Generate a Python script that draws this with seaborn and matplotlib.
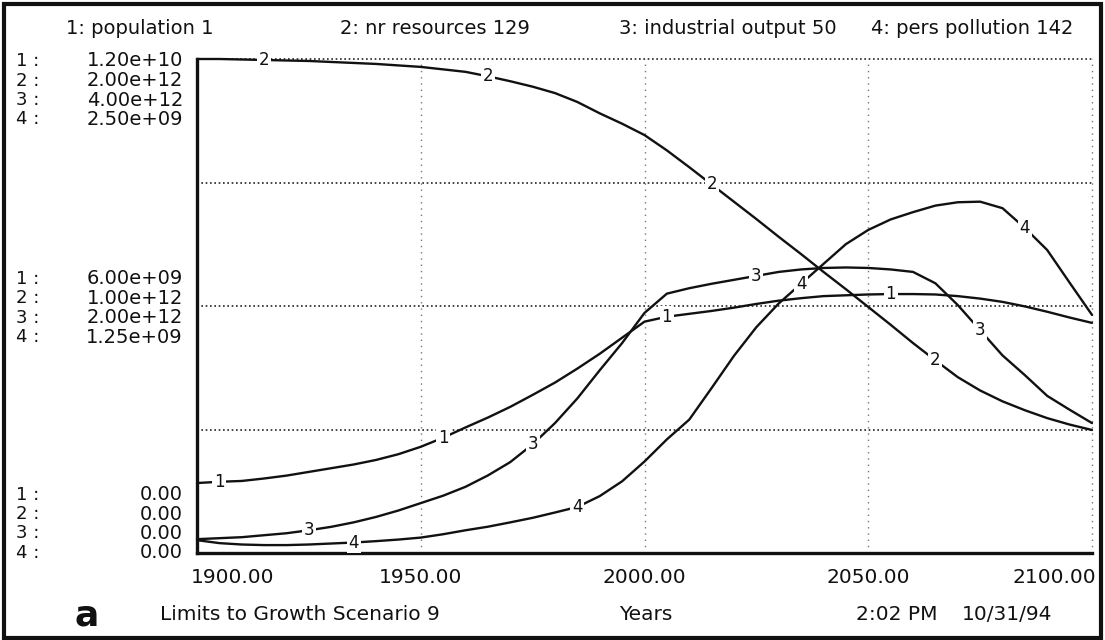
import numpy as np
import pandas as pd
import matplotlib
matplotlib.use("Agg")
import matplotlib.pyplot as plt
import matplotlib.transforms as mtransforms
import seaborn as sns
from matplotlib.patches import Rectangle

# ---------------- data ----------------
years = list(range(1900, 2101, 5))

# population, persons in billions
population = [1.70, 1.73, 1.75, 1.81, 1.88, 1.97, 2.06, 2.15, 2.26, 2.40, 2.58,
              2.80, 3.05, 3.29, 3.55, 3.84, 4.14, 4.48, 4.84, 5.23, 5.62,
              5.74, 5.81, 5.88, 5.96, 6.05, 6.13, 6.19, 6.24, 6.26, 6.28,
              6.29, 6.29, 6.28, 6.24, 6.18, 6.10, 5.99, 5.86, 5.72, 5.59]
# nonrenewable resources, 1e12
nr_resources = [2.000, 2.000, 1.998, 1.996, 1.994, 1.992, 1.988, 1.984, 1.980, 1.974, 1.968,
                1.958, 1.948, 1.930, 1.910, 1.888, 1.862, 1.826, 1.780, 1.738, 1.692,
                1.630, 1.562, 1.492, 1.422, 1.352, 1.280, 1.210, 1.138, 1.068, 0.996,
                0.924, 0.850, 0.780, 0.712, 0.658, 0.614, 0.578, 0.546, 0.520, 0.498]
# industrial output, 1e12
industrial_output = [0.112, 0.120, 0.128, 0.144, 0.160, 0.184, 0.212, 0.248, 0.292, 0.344, 0.404,
                     0.464, 0.536, 0.628, 0.736, 0.880, 1.052, 1.252, 1.480, 1.700, 1.944,
                     2.100, 2.144, 2.180, 2.212, 2.244, 2.276, 2.296, 2.308, 2.312, 2.308,
                     2.296, 2.276, 2.184, 2.008, 1.804, 1.600, 1.440, 1.272, 1.160, 1.052]
# persistent pollution, 1e9
pers_pollution = [0.065, 0.050, 0.043, 0.040, 0.040, 0.043, 0.048, 0.053, 0.060, 0.068, 0.078,
                  0.095, 0.115, 0.133, 0.155, 0.178, 0.205, 0.233, 0.288, 0.363, 0.463,
                  0.575, 0.675, 0.835, 0.998, 1.143, 1.263, 1.363, 1.463, 1.563, 1.635,
                  1.688, 1.725, 1.758, 1.775, 1.778, 1.745, 1.645, 1.533, 1.368, 1.205]

series_ids = ["1", "2", "3", "4"]
legend_labels = ["1: population 1", "2: nr resources 129",
                 "3: industrial output 50", "4: pers pollution 142"]
units = [1e9, 1e12, 1e12, 1e9]
scale_max = [1.2e10, 2.0e12, 4.0e12, 2.5e9]
top_labels = ["1.20e+10", "2.00e+12", "4.00e+12", "2.50e+09"]
mid_labels = ["6.00e+09", "1.00e+12", "2.00e+12", "1.25e+09"]
bottom_labels = ["0.00", "0.00", "0.00", "0.00"]
x_ticks = [1900, 1950, 2000, 2050, 2100]
x_tick_labels = ["1900.00", "1950.00", "2000.00", "2050.00", "2100.00"]
footer_title = "Limits to Growth Scenario 9"
footer_axis = "Years"
footer_time = "2:02 PM"
footer_date = "10/31/94"

# ---------------- frame ----------------
all_values = [population, nr_resources, industrial_output, pers_pollution]
frames = []
for sid, vals, u, m in zip(series_ids, all_values, units, scale_max):
    frames.append(pd.DataFrame({"year": years,
                                "frac": np.array(vals) * u / m,
                                "series": sid}))
df = pd.concat(frames, ignore_index=True)

# ---------------- figure ----------------
sns.set_style("white")
plt.rcParams["font.family"] = ["DejaVu Sans"]
INK = "#111111"

W, H = 1105, 640
fig = plt.figure(figsize=(W / 100, H / 100), dpi=100)
fig.patch.set_facecolor("white")
ax_l, ax_r, ax_t, ax_b = 197, 1092, 59, 553
ax = fig.add_axes([ax_l / W, (H - ax_b) / H, (ax_r - ax_l) / W, (ax_b - ax_t) / H])

sns.lineplot(data=df, x="year", y="frac", hue="series",
             palette=[INK] * 4, legend=False, estimator=None,
             linewidth=1.7, ax=ax, zorder=3)
for ln in ax.lines:
    ln.set_clip_on(False)

ax.set_xlim(1900, 2100)
ax.set_ylim(0, 1)
ax.set_xlabel("")
ax.set_ylabel("")

# grid
for v in [0.25, 0.5, 0.75, 1.0]:
    ax.axhline(v, color="#222222", lw=1.2, ls=(0, (1, 1.6)), zorder=1, clip_on=False)
for xv in x_ticks[1:]:
    ax.axvline(xv, color="#777777", lw=1.0, ls=(0, (1, 3.5)), zorder=1, clip_on=False)

for s in ["top", "right"]:
    ax.spines[s].set_visible(False)
for s in ["left", "bottom"]:
    ax.spines[s].set_linewidth(2.4)
    ax.spines[s].set_color(INK)

ax.set_xticks(x_ticks)
ax.set_xticklabels(x_tick_labels, fontsize=14.5)
ax.tick_params(axis="x", direction="inout", length=12, width=1.6, pad=5, colors=INK)
xl = ax.get_xticklabels()
xl[0].set_horizontalalignment("left")
xl[0].set_transform(xl[0].get_transform() +
                    mtransforms.ScaledTranslation(-6 / 100, 0, fig.dpi_scale_trans))
xl[-1].set_horizontalalignment("right")
xl[-1].set_transform(xl[-1].get_transform() +
                     mtransforms.ScaledTranslation(4 / 100, 0, fig.dpi_scale_trans))

ax.set_yticks([0, 0.25, 0.5, 0.75, 1.0])
ax.set_yticklabels([])
ax.tick_params(axis="y", direction="out", length=8, width=1.6, colors=INK)

# curve number labels
for i, sid in enumerate(series_ids):
    sub = df[df["series"] == sid]
    for k in range(4):
        lx = 1905 + 10 * i + 50 * k
        ly = np.interp(lx, sub["year"], sub["frac"])
        ax.text(lx, ly, sid, ha="center", va="center", fontsize=12, color=INK,
                zorder=5, bbox=dict(facecolor="white", edgecolor="none", pad=1.2))

# multi-scale y labels
row_gap = 19.5
groups = [(1.0, top_labels, 0.0, -2.0), (0.5, mid_labels, 1.4, 0.0), (0.0, bottom_labels, 3.0, 0.0)]
for v, labels, anchor, shift in groups:
    for r, (sid, lab) in enumerate(zip(series_ids, labels)):
        dy = (anchor - r) * row_gap + shift
        ax.annotate(lab, xy=(0, v), xycoords=("axes fraction", "data"),
                    xytext=(-14, dy), textcoords="offset pixels",
                    ha="right", va="center", fontsize=14, color=INK,
                    annotation_clip=False)
        ax.annotate(sid + " :", xy=(0, v), xycoords=("axes fraction", "data"),
                    xytext=(16 - ax_l, dy), textcoords="offset pixels",
                    ha="left", va="center", fontsize=13, color=INK,
                    annotation_clip=False)

# legend row on top
legend_cx = [140, 435, 728, 972]
for cx, lab in zip(legend_cx, legend_labels):
    fig.text(cx / W, 1 - 28 / H, lab, ha="center", va="center", fontsize=14, color=INK)

# footer
fy = 1 - 615 / H
fig.text(87 / W, fy, "a", ha="center", va="center", fontsize=26, fontweight="bold", color=INK)
fig.text(160 / W, fy, footer_title, ha="left", va="center", fontsize=14.5, color=INK)
fig.text(646 / W, fy, footer_axis, ha="center", va="center", fontsize=14.5, color=INK)
fig.text(856 / W, fy, footer_time, ha="left", va="center", fontsize=14.5, color=INK)
fig.text(962 / W, fy, footer_date, ha="left", va="center", fontsize=14.5, color=INK)

# outer border
fig.patches.append(Rectangle((4 / W, 2 / H), (W - 8) / W, (H - 6) / H,
                             transform=fig.transFigure, fill=False,
                             edgecolor=INK, linewidth=3))

fig.savefig("out.png", dpi=100, facecolor="white")
